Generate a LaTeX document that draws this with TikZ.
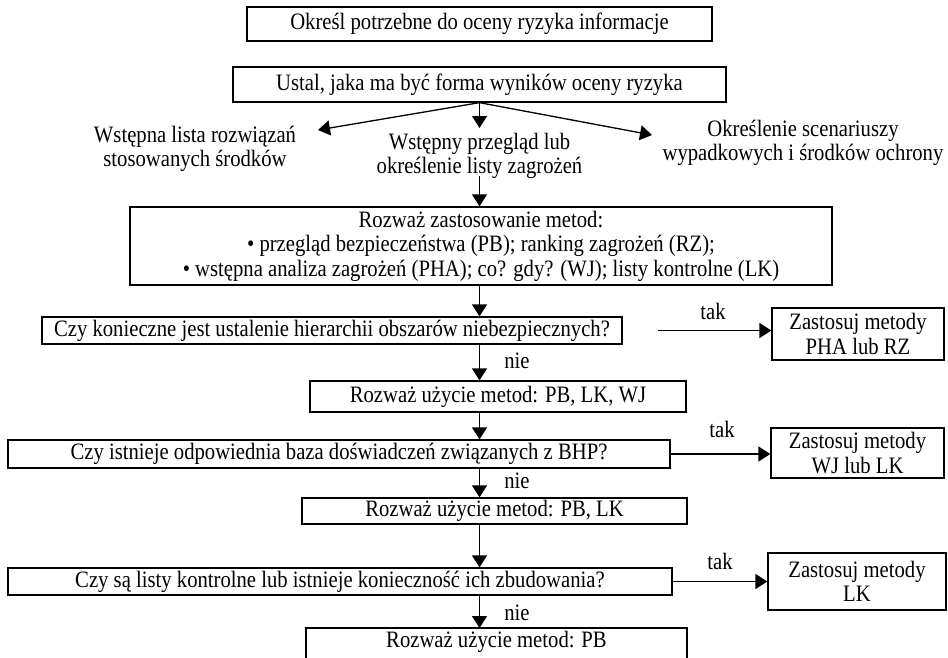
\documentclass[tikz,border=0pt]{standalone}
\usepackage{fontspec}
\setmainfont[FakeStretch=0.88]{Liberation Serif}
\usetikzlibrary{arrows.meta}
\newcommand\fs{\fontsize{23.5}{24.5}\selectfont}
\tikzset{
  box/.style={draw, line width=1.3pt, inner sep=0pt, align=center, font=\fs},
  lbl/.style={inner sep=0pt, align=center, font=\fs},
  arr/.style={line width=1.3pt, -{Triangle[width=15pt,length=12pt]}},
  frame/.style={line width=1.3pt},
}
\begin{document}
\begin{tikzpicture}[x=1pt,y=-1pt]
\useasboundingbox[fill=white] (0,0) rectangle (948,657);

% main column
\node[box, minimum width=465, minimum height=34] (b1) at (479.5,24) {Określ potrzebne do oceny ryzyka informacje};
\node[box, minimum width=493, minimum height=35] (b2) at (479.5,84.5) {Ustal, jaka ma być forma wyników oceny ryzyka};

% three kinds of input information
\node[lbl] (tl) at (195,149) {Wstępna lista rozwiązań\\stosowanych środków};
\node[lbl] (tm) at (479.5,156) {Wstępny przegląd lub\\określenie listy zagrożeń};
\node[lbl] (tr) at (803,143) {Określenie scenariuszy\\wypadkowych i środków ochrony};
\coordinate (pl) at (318,130);
\coordinate (pm) at (479.5,128);
\coordinate (pr) at (652,135);
\draw[arr] (b2.south) -- (pl);
\draw[arr] (b2.south) -- (pm);
\draw[arr] (b2.south) -- (pr);

\node[box, minimum width=702, minimum height=78] (b3) at (481,246)
  {Rozważ zastosowanie metod:\\
   • przegląd bezpieczeństwa (PB); ranking zagrożeń (RZ);\\
   • wstępna analiza zagrożeń (PHA); co? gdy? (WJ); listy kontrolne (LK)};
\coordinate (m1) at (479.5,176);
\draw[arr] (m1) -- (m1 |- b3.north);

% first question
\node[box, minimum width=580, minimum height=27] (b4) at (332,330.5) {Czy konieczne jest ustalenie hierarchii obszarów niebezpiecznych?};
\coordinate (m2) at (479.5,285);
\draw[arr] (m2) -- (m2 |- b4.north);
\node[box, minimum width=172, minimum height=52] (b5) at (858,334) {Zastosuj metody\\PHA lub RZ};
\coordinate (y1) at (658,330.5);
\draw[arr] (y1) -- (y1 -| b5.west);
\node[lbl] (k1) at (713,311) {tak};

\node[box, minimum width=376, minimum height=31] (b6) at (498,396.5) {Rozważ użycie metod: PB, LK, WJ};
\coordinate (m3) at (479.5,344);
\draw[arr] (m3) -- (m3 |- b6.north);
\node[lbl] (n1) at (517,361) {nie};

% second question
\node[box, minimum width=662, minimum height=28] (b7) at (339,454) {Czy istnieje odpowiednia baza doświadczeń związanych z BHP?};
\coordinate (m4) at (479.5,412);
\draw[arr] (m4) -- (m4 |- b7.north);
\node[box, minimum width=173, minimum height=50] (b8) at (857.5,453) {Zastosuj metody\\WJ lub LK};
\draw[arr] (b7.east) -- (b7.east -| b8.west);
\node[lbl] (k2) at (722,429) {tak};

\node[box, minimum width=385, minimum height=26] (b9) at (494.5,511) {Rozważ użycie metod: PB, LK};
\coordinate (m5) at (479.5,468);
\draw[arr] (m5) -- (m5 |- b9.north);
\node[lbl] (n2) at (517,481) {nie};

% third question
\node[box, minimum width=664, minimum height=27] (b10) at (340,581.5) {Czy są listy kontrolne lub istnieje konieczność ich zbudowania?};
\coordinate (m6) at (479.5,524);
\draw[arr] (m6) -- (m6 |- b10.north);
\node[box, minimum width=178, minimum height=57] (b11) at (857,581.5) {Zastosuj metody\\LK};
\draw[arr] (b10.east) -- (b10.east -| b11.west);
\node[lbl] (k3) at (720,561) {tak};

% last step, running past the lower edge
\node[lbl] (b12) at (496.5,642) {Rozważ użycie metod: PB};
\draw[frame] (306,665) -- (306,628) -- (687,628) -- (687,665);
\coordinate (m7) at (479.5,595);
\coordinate (e7) at (479.5,628);
\draw[arr] (m7) -- (e7);
\node[lbl] (n3) at (517,613) {nie};
\end{tikzpicture}
\end{document}
